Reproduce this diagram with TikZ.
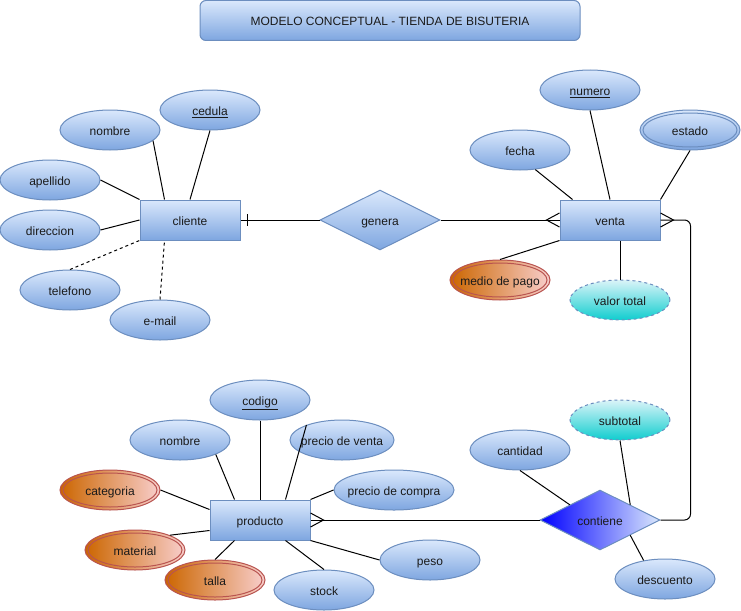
\documentclass[tikz,border=0pt]{standalone}
\usepackage{fontspec}
\setmainfont{Liberation Sans}
\usetikzlibrary{shapes.geometric,calc}
\definecolor{bfillA}{HTML}{DAE8FC}
\definecolor{bfillB}{HTML}{7EA6E0}
\definecolor{bline}{HTML}{6C8EBF}
\definecolor{ofillA}{HTML}{CC6600}
\definecolor{ofillB}{HTML}{F8CECC}
\definecolor{oline}{HTML}{B85450}
\definecolor{cfillA}{HTML}{DAF4F8}
\definecolor{cfillB}{HTML}{10CDCF}
\definecolor{txtc}{HTML}{1A1A1A}
\definecolor{relblue}{HTML}{0000FF}
\newcommand\zw[1]{\makebox[0pt]{#1}}
\begin{document}
\begin{tikzpicture}[x=0.75pt,y=-0.75pt,
  font=\fontsize{9}{11}\selectfont, text=txtc,
  common/.style={line width=0.75pt, inner sep=0pt, text height=7.5pt, text depth=0pt},
  blueshade/.style={common, draw=bline, top color=bfillA, bottom color=bfillB},
  entity/.style={blueshade, rectangle, minimum width=75pt, minimum height=30pt},
  titlebox/.style={blueshade, rectangle, rounded corners=4.5pt, minimum width=285pt, minimum height=30pt},
  attr/.style={blueshade, ellipse, minimum width=75pt, minimum height=30pt},
  oattr/.style={common, ellipse, draw=oline, left color=ofillA, right color=ofillB, minimum width=75pt, minimum height=30pt},
  cattr/.style={common, ellipse, draw=bline, dash pattern=on 2.25pt off 2.25pt, top color=cfillA, bottom color=cfillB, minimum width=75pt, minimum height=30pt},
  rel/.style={blueshade, diamond, minimum width=90pt, minimum height=45pt},
  relb/.style={common, diamond, draw=bline, left color=relblue, right color=bfillA, minimum width=90pt, minimum height=45pt},
  conn/.style={line width=0.75pt, draw=black},
  dconn/.style={conn, dash pattern=on 2.25pt off 2.25pt},
  innerb/.style={line width=0.75pt, draw=bline},
  innero/.style={line width=0.75pt, draw=oline}
]
\useasboundingbox (0,0) rectangle (741,610);

% title
\node[titlebox] (title) at (390,20.5) {MODELO CONCEPTUAL - TIENDA DE BISUTERIA};

% entities and relations
\node[entity] (cliente) at (190,220) {cliente};
\node[entity] (venta) at (610,220) {venta};
\node[entity] (producto) at (260,520) {producto};
\node[rel] (genera) at (380,220) {\zw{genera}};
\node[relb] (contiene) at (600,520) {\zw{contiene}};

% cliente attributes
\node[attr] (cnombre) at (110,130) {\zw{nombre}};
\node[attr] (cedula) at (210,110) {\zw{\underline{cedula}}};
\node[attr] (apellido) at (50,180) {\zw{apellido}};
\node[attr] (direccion) at (50,230) {\zw{direccion}};
\node[attr] (telefono) at (70,290) {\zw{telefono}};
\node[attr] (email) at (160,320) {\zw{e-mail}};

% venta attributes
\node[attr] (numero) at (590,90) {\zw{\underline{numero}}};
\node[attr] (fecha) at (520,150) {\zw{fecha}};
\node[attr] (estado) at (690,130) {\zw{estado}};
\draw[innerb] (estado.center) ellipse [x radius=35.25pt, y radius=12.75pt];
\node[oattr] (mediopago) at (500,280) {\zw{medio de pago}};
\draw[innero] (mediopago.center) ellipse [x radius=35.25pt, y radius=12.75pt];
\node[cattr] (valortotal) at (620,300) {\zw{valor total}};

% contiene attributes
\node[cattr] (subtotal) at (620,420) {\zw{subtotal}};
\node[attr] (cantidad) at (520,450) {\zw{cantidad}};
\node[attr] (descuento) at (665,579) {\zw{descuento}};

% producto attributes
\node[attr] (codigo) at (260,400) {\zw{\underline{codigo}}};
\node[attr] (pnombre) at (180,440) {\zw{nombre}};
\node[attr, minimum width=78pt] (pventa) at (342,440) {\zw{precio de venta}};
\node[attr, minimum width=90pt] (pcompra) at (394,490) {\zw{precio de compra}};
\node[oattr] (categoria) at (110,490) {\zw{categoria}};
\draw[innero] (categoria.center) ellipse [x radius=35.25pt, y radius=12.75pt];
\node[oattr] (material) at (135,550) {\zw{material}};
\draw[innero] (material.center) ellipse [x radius=35.25pt, y radius=12.75pt];
\node[oattr] (talla) at (215,580) {\zw{talla}};
\draw[innero] (talla.center) ellipse [x radius=35.25pt, y radius=12.75pt];
\node[attr] (stock) at (324,590) {\zw{stock}};
\node[attr] (peso) at (430,560) {\zw{peso}};

% cliente connectors
\draw[conn] (cnombre.-14) -- ($(cliente.north west)+(25,0)$);
\draw[conn] (cedula.south) -- (cliente.north);
\draw[conn] (apellido.east) -- (cliente.north west);
\draw[conn] (direccion.east) -- (cliente.west);
\draw[dconn] (telefono.north) -- (cliente.south west);
\draw[dconn] (email.north) -- ($(cliente.south west)+(25,0)$);

% cliente - genera - venta
\draw[conn] (cliente.east) -- (genera.west);
\draw[conn] ($(cliente.east)+(7,-6)$) -- ($(cliente.east)+(7,6)$);
\draw[conn] (genera.east) -- (venta.west);
\draw[conn] ($(venta.west)+(0,-7)$) -- ($(venta.west)+(-13,0)$) -- ($(venta.west)+(0,7)$);

% venta connectors
\draw[conn] (fecha.-52) -- ($(venta.north west)+(13,0)$);
\draw[conn] (numero.south) -- (venta.north);
\draw[conn] (estado.south) -- (venta.north east);
\draw[conn] (mediopago.north) -- (venta.south west);
\draw[conn] (valortotal.north) -- ($(venta.south)+(10,0)$);

% venta - contiene
\draw[conn, rounded corners=4.5pt] (venta.east) -- ($(venta.east)+(30,0)$) |- (contiene.east);
\draw[conn] ($(venta.east)+(0,-7)$) -- ($(venta.east)+(13,0)$) -- ($(venta.east)+(0,7)$);

% contiene connectors
\draw[conn] (cantidad.south) -- ($(contiene.west)!0.5!(contiene.north)$);
\draw[conn] (subtotal.south) -- ($(contiene.north)!0.5!(contiene.east)$);
\draw[conn] ($(contiene.east)!0.5!(contiene.south)$) -- (descuento.139);

% contiene - producto
\draw[conn] (contiene.west) -- (producto.east);
\draw[conn] ($(producto.east)+(0,-7)$) -- ($(producto.east)+(13,0)$) -- ($(producto.east)+(0,7)$);

% producto connectors
\draw[conn] (codigo.south) -- (producto.north);
\draw[conn] (pnombre.-22) -- ($(producto.north west)+(25,0)$);
\draw[conn] (pventa.157) -- ($(producto.north east)+(-25,0)$);
\draw[conn] (pcompra.west) -- (producto.north east);
\draw[conn] (categoria.east) -- ($(producto.north west)+(0,10)$);
\draw[conn] (material.23) -- ($(producto.south west)+(0,-10)$);
\draw[conn] (talla.north) -- ($(producto.south west)+(25,0)$);
\draw[conn] (stock.north) -- ($(producto.south east)+(-25,0)$);
\draw[conn] (peso.west) -- (producto.south east);
\end{tikzpicture}
\end{document}
